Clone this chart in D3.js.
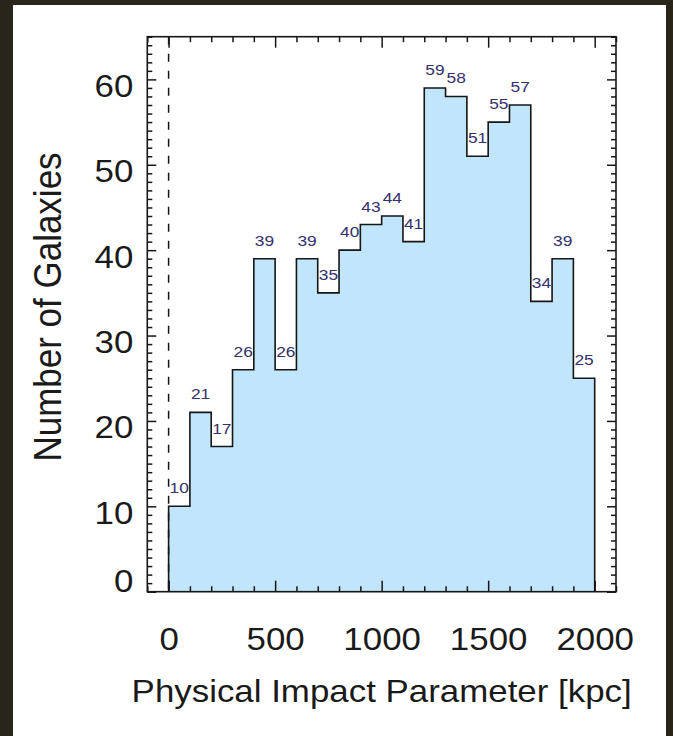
<!DOCTYPE html>
<html>
<head>
<meta charset="utf-8">
<script src="https://cdn.jsdelivr.net/npm/d3@7"></script>
<style>
  html, body { margin: 0; padding: 0; background: #28251a; }
  svg { display: block; }
  text { font-family: "Liberation Sans", Arial, Helvetica, sans-serif; }
</style>
</head>
<body>
<svg id="chart" width="673" height="736"></svg>
<script>
// Histogram of galaxy counts per 100 kpc bin of physical impact parameter
const binEdgesStart = [0, 100, 200, 300, 400, 500, 600, 700, 800, 900,
                       1000, 1100, 1200, 1300, 1400, 1500, 1600, 1700, 1800, 1900];
const binWidth = 100;
const counts = [10, 21, 17, 26, 39, 26, 39, 35, 40, 43,
                44, 41, 59, 58, 51, 55, 57, 34, 39, 25];

const xMajorTicks = [0, 500, 1000, 1500, 2000];
const yMajorTicks = [0, 10, 20, 30, 40, 50, 60];
const xTitle = "Physical Impact Parameter [kpc]";
const yTitle = "Number of Galaxies";

const svg = d3.select("#chart");

// white page area inside the dark border
svg.append("rect")
  .attr("x", 13).attr("y", 5)
  .attr("width", 653).attr("height", 731)
  .attr("fill", "#ffffff");

const plot = { left: 147.3, right: 616, top: 36.7, bottom: 591.7 };

const x = d3.scaleLinear().domain([-100, 2100]).range([plot.left, plot.right]);
const y = d3.scaleLinear().domain([0, 65]).range([plot.bottom, plot.top]);

const ink = "#161616";
const textInk = "#1a1a1a";
const labelInk = "#34306c";
// the lettering is set slightly wide
const widen = 1.09;

// step outline of the histogram, closed down to zero for the fill
const stepPoints = [[binEdgesStart[0], 0]];
binEdgesStart.forEach((b, i) => {
  stepPoints.push([b, counts[i]]);
  stepPoints.push([b + binWidth, counts[i]]);
});
stepPoints.push([binEdgesStart[binEdgesStart.length - 1] + binWidth, 0]);

const line = d3.line().x(d => x(d[0])).y(d => y(d[1]));

svg.append("path")
  .attr("d", line(stepPoints) + "Z")
  .attr("fill", "#c1e6fc")
  .attr("stroke", "none");

svg.append("path")
  .attr("d", line(stepPoints))
  .attr("fill", "none")
  .attr("stroke", ink)
  .attr("stroke-width", 1.6)
  .attr("stroke-linejoin", "miter");

// dashed reference line at zero impact parameter
svg.append("line")
  .attr("x1", x(0)).attr("x2", x(0))
  .attr("y1", plot.top).attr("y2", plot.bottom)
  .attr("stroke", ink)
  .attr("stroke-width", 1.5)
  .attr("stroke-dasharray", "8,9");

// count labels above each bin
svg.append("g").selectAll("text")
  .data(counts)
  .join("text")
  .attr("transform", (d, i) =>
    `translate(${x(binEdgesStart[i] + binWidth / 2)},${y(d) - 13}) scale(1.12,1)`)
  .attr("text-anchor", "middle")
  .attr("font-size", 15.5)
  .attr("fill", labelInk)
  .text(d => d);

// axes: inward major and minor ticks on all four sides
const xMinor = d3.range(-100, 2101, 100).filter(v => v % 500 !== 0);
const yMinor = d3.range(0, 66, 1).filter(v => v % 10 !== 0);

function styleAxis(g) {
  g.select(".domain").remove();
  g.selectAll("line").attr("stroke", ink).attr("stroke-width", 1.5);
}

svg.append("g").attr("transform", `translate(0,${plot.bottom})`)
  .call(d3.axisBottom(x).tickValues(xMinor).tickSize(-5.5).tickFormat(""))
  .call(styleAxis);
const bottomAxis = svg.append("g").attr("transform", `translate(0,${plot.bottom})`)
  .call(d3.axisBottom(x).tickValues(xMajorTicks).tickSize(-11).tickFormat(d3.format("d")))
  .call(styleAxis);
bottomAxis.selectAll("text")
  .attr("x", 0).attr("y", 0).attr("dy", 0)
  .attr("transform", `translate(0,58) scale(${widen},1)`)
  .attr("font-size", 32)
  .attr("fill", textInk);

svg.append("g").attr("transform", `translate(0,${plot.top})`)
  .call(d3.axisTop(x).tickValues(xMinor).tickSize(-5.5).tickFormat(""))
  .call(styleAxis);
svg.append("g").attr("transform", `translate(0,${plot.top})`)
  .call(d3.axisTop(x).tickValues(xMajorTicks).tickSize(-11).tickFormat(""))
  .call(styleAxis);

svg.append("g").attr("transform", `translate(${plot.left},0)`)
  .call(d3.axisLeft(y).tickValues(yMinor).tickSize(-5).tickFormat(""))
  .call(styleAxis);
const leftAxis = svg.append("g").attr("transform", `translate(${plot.left},0)`)
  .call(d3.axisLeft(y).tickValues(yMajorTicks).tickSize(-9).tickFormat(d3.format("d")))
  .call(styleAxis);
// labels sit a little below their tick, but never below the x axis line
leftAxis.selectAll(".tick")
  .each(function(d) {
    const drop = Math.min(17, plot.bottom - y(d));
    d3.select(this).select("text")
      .attr("x", 0).attr("y", 0).attr("dy", 0)
      .attr("transform", `translate(-14,${drop}) scale(${widen},1)`)
      .attr("font-size", 32)
      .attr("fill", textInk);
  });

svg.append("g").attr("transform", `translate(${plot.right},0)`)
  .call(d3.axisRight(y).tickValues(yMinor).tickSize(-5).tickFormat(""))
  .call(styleAxis);
svg.append("g").attr("transform", `translate(${plot.right},0)`)
  .call(d3.axisRight(y).tickValues(yMajorTicks).tickSize(-9).tickFormat(""))
  .call(styleAxis);

// frame
svg.append("rect")
  .attr("x", plot.left).attr("y", plot.top)
  .attr("width", plot.right - plot.left)
  .attr("height", plot.bottom - plot.top)
  .attr("fill", "none")
  .attr("stroke", ink)
  .attr("stroke-width", 1.6);

// axis titles
svg.append("text")
  .attr("transform", `translate(${(plot.left + plot.right) / 2},702) scale(${widen},1)`)
  .attr("text-anchor", "middle")
  .attr("font-size", 32)
  .attr("fill", textInk)
  .text(xTitle);

svg.append("text")
  .attr("transform", `translate(61,307) scale(${widen},1) rotate(-90)`)
  .attr("text-anchor", "middle")
  .attr("font-size", 35)
  .attr("fill", textInk)
  .text(yTitle);
</script>
</body>
</html>
